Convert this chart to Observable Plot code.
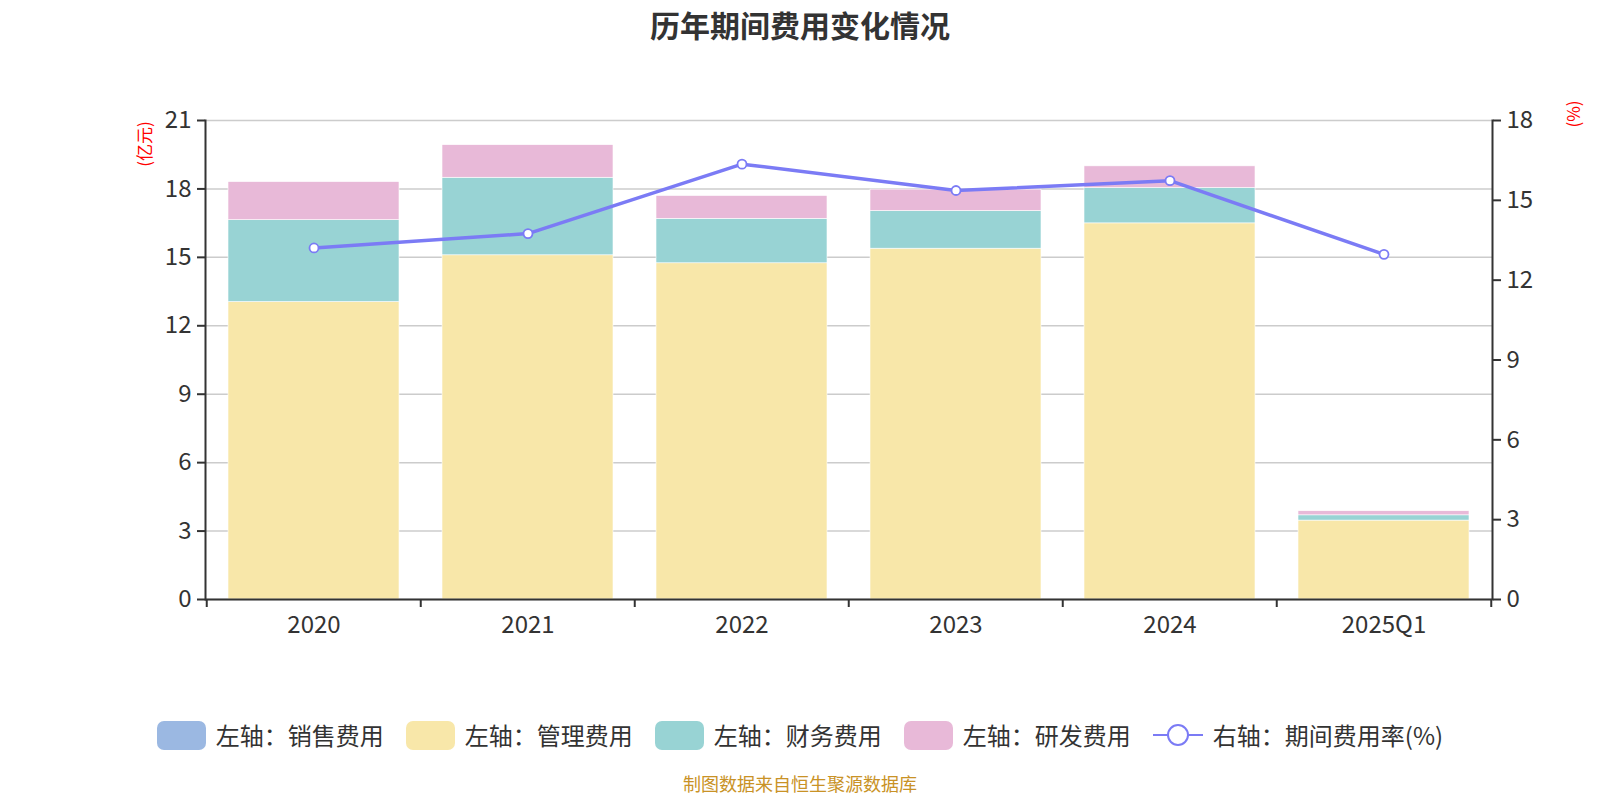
<!DOCTYPE html>
<html>
<head>
<meta charset="utf-8">
<script src="https://cdn.jsdelivr.net/npm/d3@7"></script>
<script src="https://cdn.jsdelivr.net/npm/@observablehq/plot@0.6"></script>
<style>
  body { margin: 0; background: #fff; font-family: "Noto Sans CJK SC", "Noto Sans", sans-serif; }
  #wrap { position: relative; width: 1600px; height: 800px; overflow: hidden; }
  #title { position: absolute; left: 0; width: 1600px; top: 6px; line-height: 1.2; text-align: center; font-size: 30px; font-weight: bold; color: #333; z-index: 2; }
  #chart { position: absolute; left: 0; top: 0; z-index: 1; }
  .unit { position: absolute; color: #f00; font-size: 17px; white-space: nowrap; transform: translate(-50%, -50%) rotate(-90deg); z-index: 2; }
  #legend { position: absolute; left: 0; width: 1600px; top: 720px; display: flex; justify-content: center; align-items: center; gap: 22px; font-size: 24px; line-height: 1.2; color: #333; z-index: 2; }
  .item { display: flex; align-items: center; gap: 10px; }
  .sw { width: 49px; height: 29px; border-radius: 7px; }
  #caption { position: absolute; left: 0; width: 1600px; top: 774px; line-height: 1.1; text-align: center; font-size: 18px; color: #c99226; z-index: 2; }
</style>
</head>
<body>
<div id="wrap">
  <div id="title"></div>
  <div id="chart"></div>
  <div class="unit" id="unitL" style="left:143px; top:144px;"></div>
  <div class="unit" id="unitR" style="left:1572px; top:114px;"></div>
  <div id="legend"></div>
  <div id="caption"></div>
</div>
<script>
const titleText = "历年期间费用变化情况";
const captionText = "制图数据来自恒生聚源数据库";
const categories = ["2020", "2021", "2022", "2023", "2024", "2025Q1"];
const seriesNames = ["左轴：销售费用", "左轴：管理费用", "左轴：财务费用", "左轴：研发费用"];
const lineName = "右轴：期间费用率(%)";
const sales = [0, 0, 0, 0, 0, 0];
const admin = [13.04, 15.09, 14.74, 15.38, 16.49, 3.46];
const finance = [3.59, 3.40, 1.95, 1.65, 1.55, 0.23];
const rnd = [1.67, 1.43, 1.00, 0.94, 0.95, 0.18];
const rate = [13.21, 13.75, 16.36, 15.37, 15.74, 12.97];
const leftTicks = [0, 3, 6, 9, 12, 15, 18, 21];
const rightTicks = [0, 3, 6, 9, 12, 15, 18];
const leftMax = 21, rightMax = 18;
const colors = ["#9bb8e2", "#f8e7a9", "#98d3d4", "#e8b9d8"];
const lineColor = "#7b7bf5";

document.getElementById("title").textContent = titleText;
document.getElementById("caption").textContent = captionText;
document.getElementById("unitL").textContent = "(亿元)";
document.getElementById("unitR").textContent = "(%)";

const seriesValues = [sales, admin, finance, rnd];
const barData = [];
seriesValues.forEach((vals, s) => vals.forEach((v, i) => barData.push({cat: categories[i], series: seriesNames[s], value: v})));
const lineData = categories.map((c, i) => ({cat: c, rate: rate[i], y: rate[i] * leftMax / rightMax}));

const W = 1600, H = 680, ML = 205, MR = 108, MT = 120, MB = 81;
const bw = (W - ML - MR) / categories.length;

const plot = Plot.plot({
  width: W, height: H,
  marginLeft: ML, marginRight: MR, marginTop: MT, marginBottom: MB,
  style: {background: "transparent", fontFamily: "'Noto Sans CJK SC', 'Noto Sans', sans-serif", fontSize: "24px", color: "#333"},
  x: {domain: categories, paddingInner: 0.2, paddingOuter: 0.1},
  y: {domain: [0, leftMax]},
  color: {domain: seriesNames, range: colors},
  marks: [
    Plot.gridY(leftTicks, {stroke: "#ccc", strokeOpacity: 1, strokeWidth: 1.5}),
    Plot.barY(barData, {x: "cat", y: "value", fill: "series", order: seriesNames, stroke: "#fff", strokeWidth: 0.6}),
    Plot.line(lineData, {x: "cat", y: "y", stroke: lineColor, strokeWidth: 3.5}),
    Plot.dot(lineData, {x: "cat", y: "y", r: 4.5, fill: "#fff", stroke: lineColor, strokeWidth: 1.8}),
    Plot.ruleY([0], {stroke: "#333", strokeWidth: 2}),
    Plot.frame({anchor: "left", stroke: "#333", strokeWidth: 2}),
    Plot.frame({anchor: "right", stroke: "#333", strokeWidth: 2}),
    Plot.axisY(leftTicks, {anchor: "left", tickSize: 8, tickPadding: 6, stroke: "#333", strokeWidth: 2, fill: "#333", label: null}),
    Plot.axisY(rightTicks.map(v => v * leftMax / rightMax), {anchor: "right", tickSize: 8, tickPadding: 6, stroke: "#333", strokeWidth: 2, fill: "#333", label: null, tickFormat: d => String(Math.round(d * rightMax / leftMax))}),
    Plot.axisX({anchor: "bottom", tickSize: 0, tickPadding: 16, fill: "#333", label: null}),
    Plot.axisX(categories, {anchor: "bottom", tickSize: 8, stroke: "#333", strokeWidth: 2, tickFormat: () => "", dx: -bw / 2, label: null}),
    Plot.axisX([categories[categories.length - 1]], {anchor: "bottom", tickSize: 8, stroke: "#333", strokeWidth: 2, tickFormat: () => "", dx: bw / 2, label: null})
  ]
});
document.getElementById("chart").appendChild(plot);

// legend
const legend = document.getElementById("legend");
seriesNames.forEach((name, i) => {
  const it = document.createElement("div");
  it.className = "item";
  const sw = document.createElement("div");
  sw.className = "sw";
  sw.style.background = colors[i];
  const t = document.createElement("span");
  t.textContent = name;
  it.appendChild(sw); it.appendChild(t);
  legend.appendChild(it);
});
const li = document.createElement("div");
li.className = "item";
li.innerHTML = `<svg width="50" height="30"><line x1="0" y1="15" x2="50" y2="15" stroke="${lineColor}" stroke-width="2"/><circle cx="25" cy="15" r="10" fill="#fff" stroke="${lineColor}" stroke-width="2"/></svg>`;
const lt = document.createElement("span");
lt.textContent = lineName;
li.appendChild(lt);
legend.appendChild(li);
</script>
</body>
</html>
